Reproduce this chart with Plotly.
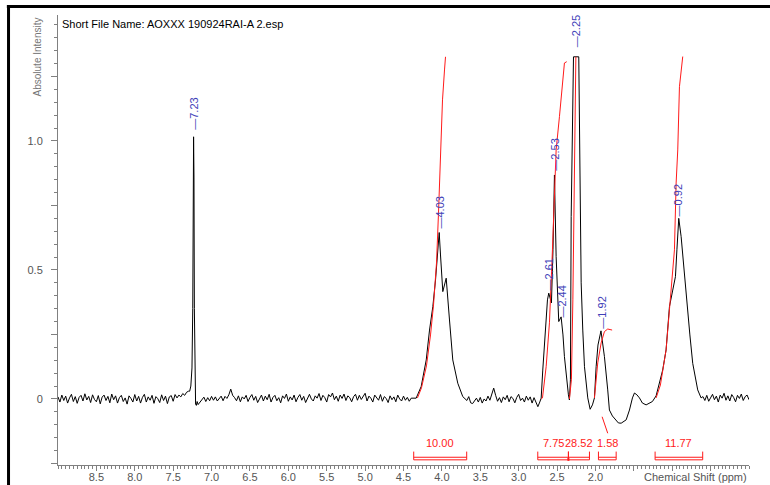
import numpy as np
import plotly.graph_objects as go

# ---------------- data ----------------
# baseline noise segments on a uniform ppm grid (start, end) + intensities
noise_a_range = (9.000, 7.300)
noise_a = [0.008, -0.012, 0.015, -0.006, 0.011, -0.016, 0.004, 0.018, -0.010, 0.009,
           -0.017, 0.006, 0.014, -0.008, 0.020, -0.004, 0.010, -0.014, 0.016, -0.002,
           -0.011, 0.013, -0.019, 0.007, 0.015, -0.006, 0.010, -0.015, 0.019, -0.003,
           0.012, -0.016, 0.005, 0.014, -0.010, 0.004, -0.020, 0.012, 0.002, -0.012,
           0.017, -0.008, 0.010, -0.016, 0.006, 0.018, -0.012, 0.008, -0.005, 0.014,
           -0.017, 0.009, 0.001, -0.014, 0.016, -0.006, 0.011, -0.018, 0.008, 0.013,
           -0.009, 0.017, 0.004, 0.015, 0.008, 0.021, 0.014, 0.026, 0.030]

peak_723_ppm = [7.285, 7.270, 7.255, 7.245, 7.238, 7.234, 7.229, 7.224, 7.216, 7.208, 7.198, 7.188]
peak_723_int = [0.030, 0.050, 0.120, 0.350, 0.860, 1.016, 0.860, 0.350, 0.050, -0.020, -0.025, -0.010]

noise_b_range = (7.175, 4.400)
noise_b = [-0.022, -0.012, -0.004, 0.007, -0.010, 0.005, -0.007, 0.010, -0.005, 0.008,
           -0.008, 0.004, 0.011, -0.007, 0.010, 0.002, 0.016, 0.038, 0.014, 0.005,
           -0.007, 0.012, -0.011, 0.008, 0.000, 0.014, -0.010, 0.006, 0.017, -0.005,
           0.010, -0.014, 0.003, 0.015, -0.008, 0.011, -0.003, 0.018, -0.012, 0.006,
           0.014, -0.007, 0.005, -0.015, 0.012, 0.002, 0.019, -0.009, 0.008, -0.004,
           0.015, -0.011, 0.006, 0.017, -0.005, 0.010, -0.014, 0.005, 0.018, 0.000,
           -0.008, 0.012, 0.003, 0.021, -0.006, 0.014, 0.005, -0.012, 0.017, 0.008,
           0.023, -0.003, 0.011, -0.009, 0.015, 0.002, 0.019, -0.006, 0.012, 0.005,
           -0.011, 0.009, 0.018, -0.005, 0.014, -0.002, 0.008, 0.022, -0.008, 0.011,
           0.003, -0.012, 0.015, 0.006, -0.005, 0.017, -0.009, 0.009, 0.002, -0.014,
           0.012, -0.003, 0.008, -0.011, 0.015, 0.000, -0.008, 0.011, -0.005, 0.006,
           -0.009, 0.003]

peak_403_ppm = [4.335, 4.270, 4.204, 4.161, 4.118, 4.083, 4.035, 4.018, 3.988, 3.944,
                3.923, 3.901, 3.858, 3.793, 3.728, 3.684]
peak_403_int = [0.003, 0.048, 0.151, 0.267, 0.358, 0.461, 0.645, 0.558, 0.416, 0.468,
                0.403, 0.306, 0.151, 0.061, 0.009, -0.004]

noise_c_range = (3.675, 2.725)
noise_c = [-0.006, 0.009, -0.015, -0.018, -0.009, 0.003, -0.012, 0.006, -0.016, 0.000,
           -0.008, 0.011, -0.005, 0.015, 0.042, 0.014, -0.009, 0.005, -0.014, 0.008,
           -0.003, 0.014, -0.011, 0.009, 0.002, -0.015, 0.006, 0.018, -0.006, 0.003,
           -0.012, 0.011, -0.005, 0.008, -0.016, 0.005, -0.014, -0.030, -0.012]

group_ppm = [2.707, 2.686, 2.651, 2.625, 2.608, 2.586, 2.573, 2.553, 2.534, 2.512,
             2.495, 2.478, 2.447, 2.423, 2.404, 2.378, 2.352, 2.339, 2.326, 2.316,
             2.300, 2.286, 2.217, 2.202, 2.186, 2.165, 2.143, 2.100, 2.069, 2.039,
             2.013, 1.991, 1.967, 1.928, 1.909, 1.883, 1.840, 1.818, 1.779, 1.730,
             1.701, 1.665, 1.635, 1.600, 1.557, 1.518, 1.492, 1.460, 1.427, 1.388,
             1.340, 1.297, 1.258, 1.210, 1.167, 1.124, 1.080, 1.036, 0.993, 0.958,
             0.939, 0.915, 0.884, 0.841, 0.798, 0.770, 0.733, 0.668, 0.624]
group_int = [0.003, 0.112, 0.267, 0.384, 0.410, 0.384, 0.372, 0.578, 0.868, 0.552,
             0.384, 0.300, 0.318, 0.248, 0.164, 0.074, 0.016, -0.004, 0.074, 0.707,
             1.080, 1.326, 1.326, 0.771, 0.450, 0.267, 0.125, 0.004, -0.040, -0.023,
             0.004, 0.125, 0.209, 0.264, 0.229, 0.164, 0.035, -0.043, -0.066, -0.081,
             -0.093, -0.094, -0.089, -0.081, -0.043, 0.004, 0.023, 0.016, 0.004, -0.016,
             -0.023, -0.016, -0.010, 0.012, 0.061, 0.112, 0.190, 0.358, 0.422, 0.474,
             0.578, 0.700, 0.629, 0.474, 0.345, 0.248, 0.138, 0.035, 0.004]

noise_d_range = (0.600, 0.000)
noise_d = [0.009, -0.006, 0.014, -0.009, 0.005, 0.018, -0.003, 0.011, -0.012, 0.015,
           0.003, 0.022, -0.005, 0.012, -0.008, 0.017, 0.006, -0.011, 0.014, 0.002,
           0.019, -0.006, 0.009, 0.015, -0.003]

# integral curves (red)
int1_ppm = [4.318, 4.266, 4.201, 4.148, 4.109, 4.070, 4.044, 4.031, 4.018, 3.992, 3.966, 3.953]
int1_val = [0.004, 0.043, 0.128, 0.248, 0.364, 0.527, 0.721, 0.849, 0.965, 1.159, 1.275, 1.326]
int2_ppm = [2.707, 2.690, 2.642, 2.599, 2.560, 2.534, 2.512, 2.469, 2.434, 2.404, 2.374]
int2_val = [0.000, 0.004, 0.125, 0.295, 0.578, 0.771, 0.965, 1.094, 1.225, 1.302, 1.307]
int3_ppm = [2.339, 2.313, 2.294, 2.281, 2.268, 2.255]
int3_val = [0.000, 0.074, 0.384, 0.771, 1.081, 1.326]
int4_ppm = [2.013, 1.970, 1.926, 1.883, 1.840, 1.783]
int4_val = [0.004, 0.140, 0.217, 0.261, 0.271, 0.267]
int5_ppm = [1.210, 1.154, 1.080, 1.015, 0.971, 0.949, 0.928, 0.906, 0.863]
int5_val = [0.004, 0.054, 0.190, 0.422, 0.578, 0.837, 0.965, 1.210, 1.327]

# peak labels
peak_labels = ["7.23", "4.03", "2.61", "2.53", "2.44", "2.25", "1.92", "0.92"]
peak_label_y = [1.039, 0.655, 0.415, 0.880, 0.310, 1.360, 0.267, 0.705]

# integration regions and values
integ_text = ["10.00", "7.75", "28.52", "1.58", "11.77"]
integ_from = [4.367, 2.751, 2.352, 1.961, 1.223]
integ_to = [3.677, 2.352, 2.078, 1.730, 0.603]

x_tick_vals = [8.5, 8.0, 7.5, 7.0, 6.5, 6.0, 5.5, 5.0, 4.5, 4.0, 3.5, 3.0, 2.5, 2.0, 1.5, 1.0, 0.5]
x_tick_text = ["8.5", "8.0", "7.5", "7.0", "6.5", "6.0", "5.5", "5.0", "4.5", "4.0",
               "3.5", "3.0", "2.5", "2.0", "", "", ""]
y_tick_vals = [-0.25, 0.0, 0.25, 0.5, 0.75, 1.0, 1.25]
y_tick_text = ["", "0", "", "0.5", "", "1.0", ""]

title_text = "Short File Name: AOXXX 190924RAI-A 2.esp"

# ---------------- assemble spectrum ----------------
def seg(rng, vals):
    return list(np.linspace(rng[0], rng[1], len(vals))), list(vals)

xs, ys = [], []
for px, py in [seg(noise_a_range, noise_a), (peak_723_ppm, peak_723_int),
               seg(noise_b_range, noise_b), (peak_403_ppm, peak_403_int),
               seg(noise_c_range, noise_c), (group_ppm, group_int),
               seg(noise_d_range, noise_d)]:
    xs += list(px)
    ys += list(py)

FONT = "Liberation Sans, Arial, sans-serif"
RED = "#ff1a1a"
BLUE = "#4040b8"
GRAY = "#555555"

fig = go.Figure()
fig.add_trace(go.Scatter(x=xs, y=ys, mode="lines",
                         line=dict(color="black", width=1), hoverinfo="skip"))
for ip, iv in [(int1_ppm, int1_val), (int2_ppm, int2_val), (int3_ppm, int3_val),
               (int4_ppm, int4_val), (int5_ppm, int5_val)]:
    fig.add_trace(go.Scatter(x=ip, y=iv, mode="lines",
                             line=dict(color=RED, width=1), hoverinfo="skip"))

annotations = []
for lab, ly in zip(peak_labels, peak_label_y):
    annotations.append(dict(x=float(lab), y=ly, xref="x", yref="y", text="\u2014" + lab,
                            textangle=-90, showarrow=False, xanchor="center", yanchor="bottom",
                            font=dict(family=FONT, size=11, color=BLUE), borderpad=0))

shapes = []
y_top, y_mid, y_bot, y_txt = -0.204, -0.226, -0.236, -0.172
for t, a, b in zip(integ_text, integ_from, integ_to):
    annotations.append(dict(x=(a + b) / 2, y=y_txt, xref="x", yref="y", text=t,
                            showarrow=False, xanchor="center", yanchor="middle",
                            font=dict(family=FONT, size=11, color=RED)))
    for yy in (y_mid, y_bot):
        shapes.append(dict(type="line", xref="x", yref="y", x0=a, x1=b, y0=yy, y1=yy,
                           line=dict(color=RED, width=1)))
    for xx in (a, b):
        shapes.append(dict(type="line", xref="x", yref="y", x0=xx, x1=xx, y0=y_top, y1=y_bot,
                           line=dict(color=RED, width=1)))
# leader from 1.58 label to its integral
shapes.append(dict(type="line", xref="x", yref="y", x0=1.913, x1=1.840, y0=-0.069, y1=-0.133,
                   line=dict(color=RED, width=1)))
# marker at the shared boundary of 7.75 / 28.52
shapes.append(dict(type="rect", xref="x", yref="y", x0=2.365, x1=2.339, y0=-0.240, y1=-0.229,
                   fillcolor=RED, line=dict(color=RED, width=0)))

# outer frame (top and left)
shapes.append(dict(type="line", xref="paper", yref="paper", x0=-0.074, x1=1.04, y0=1.019, y1=1.019,
                   line=dict(color="black", width=3)))
shapes.append(dict(type="line", xref="paper", yref="paper", x0=-0.0716, x1=-0.0716, y0=1.022, y1=-0.05,
                   line=dict(color="black", width=3)))

annotations.append(dict(x=0.003, y=0.98, xref="paper", yref="paper", text=title_text,
                        showarrow=False, xanchor="left", yanchor="middle",
                        font=dict(family=FONT, size=11, color="black")))
annotations.append(dict(x=-0.029, y=1.0, xref="paper", yref="paper", text="Absolute Intensity",
                        showarrow=False, xanchor="center", yanchor="top", textangle=-90,
                        font=dict(family=FONT, size=10, color="#777777")))
annotations.append(dict(x=1.0, y=-0.0265, xref="paper", yref="paper", text="Chemical Shift (ppm)",
                        showarrow=False, xanchor="right", yanchor="middle",
                        font=dict(family=FONT, size=11, color=GRAY)))

fig.update_layout(
    width=770, height=485,
    margin=dict(l=58, r=21, t=15, b=20),
    paper_bgcolor="white", plot_bgcolor="white",
    showlegend=False,
    annotations=annotations, shapes=shapes,
    xaxis=dict(range=[9.0, 0.0], automargin=False, showgrid=False, zeroline=False, showline=True,
               linecolor="#808080", linewidth=1, ticks="outside", ticklen=5, tickwidth=1,
               tickcolor="#808080", tickvals=x_tick_vals, ticktext=x_tick_text,
               tickfont=dict(family=FONT, size=11, color=GRAY), ticklabelstandoff=-3,
               minor=dict(dtick=0.05, ticklen=3, tickcolor="#808080", ticks="outside", showgrid=False)),
    yaxis=dict(range=[-0.256, 1.488], automargin=False, showgrid=False, zeroline=False, showline=True,
               linecolor="#808080", linewidth=1, ticks="outside", ticklen=6, tickwidth=1,
               tickcolor="#808080", tickvals=y_tick_vals, ticktext=y_tick_text,
               tickfont=dict(family=FONT, size=11, color=GRAY), ticklabelstandoff=6,
               minor=dict(dtick=0.05, ticklen=3, tickcolor="#808080", ticks="outside", showgrid=False)),
)

fig.write_html("out.html", config={"displayModeBar": False},
               post_script="document.body.style.margin='0';document.body.style.overflow='hidden';")
